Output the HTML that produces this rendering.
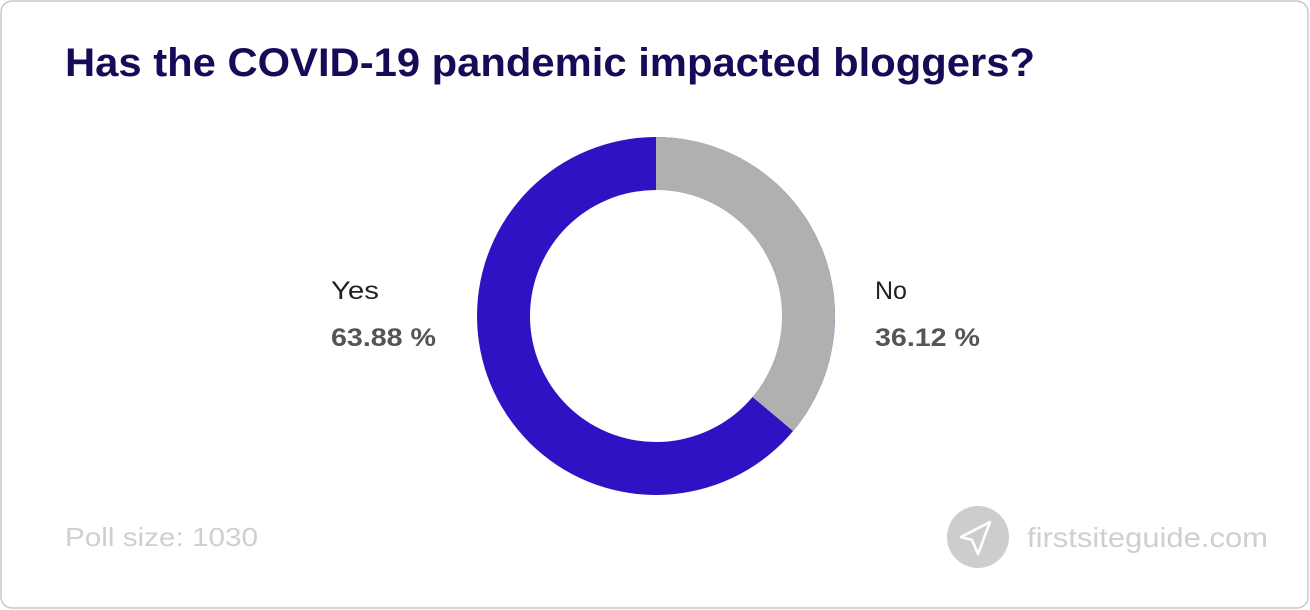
<!DOCTYPE html>
<html><head><meta charset="utf-8"><style>
html,body{margin:0;padding:0;background:#fff;}
svg{display:block;}
</style></head><body>
<svg width="1310" height="610" viewBox="0 0 1310 610" xmlns="http://www.w3.org/2000/svg" font-family="Liberation Sans, sans-serif">
<rect x="1" y="1" width="1307" height="607" rx="11" fill="#fff" stroke="#c8c8c8" stroke-width="1.5"/>
<text x="65" y="76" font-size="40" font-weight="bold" fill="#170b57" textLength="970" lengthAdjust="spacingAndGlyphs">Has the COVID-19 pandemic impacted bloggers?</text>
<circle cx="656" cy="316" r="179" fill="#3012c4"/>
<path d="M656 316 L656 137 A179 179 0 0 1 793.1 431.1 Z" fill="#b0b0b0"/>
<circle cx="656" cy="316" r="126" fill="#fff"/>
<text x="331" y="299" font-size="25" fill="#222" textLength="48" lengthAdjust="spacingAndGlyphs">Yes</text>
<text x="331" y="346" font-size="25" font-weight="bold" fill="#555" textLength="105" lengthAdjust="spacingAndGlyphs">63.88 %</text>
<text x="875" y="299" font-size="25" fill="#222">No</text>
<text x="875" y="346" font-size="25" font-weight="bold" fill="#555" textLength="105" lengthAdjust="spacingAndGlyphs">36.12 %</text>
<text x="65" y="546" font-size="26" fill="#cfcfcf" textLength="193" lengthAdjust="spacingAndGlyphs">Poll size: 1030</text>
<circle cx="978" cy="537" r="31" fill="#cdcdcd"/>
<path d="M990 522 L961 537 L972 540 L978 554 Z" fill="none" stroke="#fff" stroke-width="2.5" stroke-linejoin="round"/>
<text x="1027" y="547" font-size="28" fill="#cfcfcf" textLength="241" lengthAdjust="spacingAndGlyphs">firstsiteguide.com</text>
</svg>
</body></html>
